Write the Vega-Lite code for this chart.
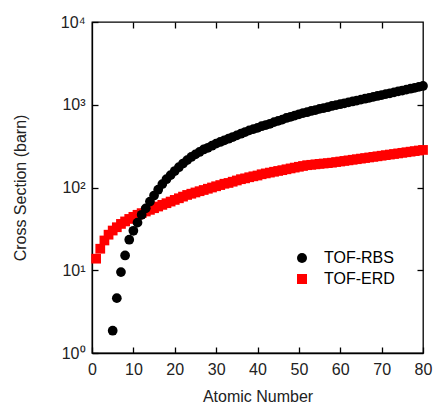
{
  "$schema": "https://vega.github.io/schema/vega-lite/v6.json",
  "width": 331,
  "height": 331,
  "autosize": {"type": "none"},
  "padding": {"left": 92, "top": 22, "right": 12, "bottom": 53},
  "background": "white",
  "config": {
    "view": {"stroke": "black", "strokeWidth": 1.3},
    "font": "Liberation Sans",
    "axis": {"labelFont": "Liberation Sans", "titleFont": "Liberation Sans", "labelFontSize": 16, "titleFontSize": 16, "titleFontWeight": "normal", "labelColor": "#222", "titleColor": "#222", "grid": false, "domainColor": "black", "tickColor": "black", "domainWidth": 1.3, "tickWidth": 1.3}
  },
  "datasets": {
    "erd": [
      {"Z":1,"cs":13.8},{"Z":2,"cs":18.2},{"Z":3,"cs":22.9},{"Z":4,"cs":26.9},{"Z":5,"cs":30.2},{"Z":6,"cs":33.1},{"Z":7,"cs":36.3},{"Z":8,"cs":38.9},{"Z":9,"cs":41.7},{"Z":10,"cs":44.2},
      {"Z":11,"cs":46.8},{"Z":12,"cs":49},{"Z":13,"cs":51.3},{"Z":14,"cs":53.7},{"Z":15,"cs":56.2},{"Z":16,"cs":58.9},{"Z":17,"cs":61.7},{"Z":18,"cs":64.6},{"Z":19,"cs":67.6},{"Z":20,"cs":70.8},
      {"Z":21,"cs":74.1},{"Z":22,"cs":77.6},{"Z":23,"cs":81.3},{"Z":24,"cs":84.1},{"Z":25,"cs":87.1},{"Z":26,"cs":90.2},{"Z":27,"cs":93.3},{"Z":28,"cs":96.6},{"Z":29,"cs":100},{"Z":30,"cs":103.5},
      {"Z":31,"cs":107},{"Z":32,"cs":111},{"Z":33,"cs":113.5},{"Z":34,"cs":117.5},{"Z":35,"cs":121.6},{"Z":36,"cs":126},{"Z":37,"cs":129},{"Z":38,"cs":133},{"Z":39,"cs":136.5},{"Z":40,"cs":139.6},
      {"Z":41,"cs":144.5},{"Z":42,"cs":148},{"Z":43,"cs":151.4},{"Z":44,"cs":155},{"Z":45,"cs":158.5},{"Z":46,"cs":162},{"Z":47,"cs":166},{"Z":48,"cs":170},{"Z":49,"cs":174},{"Z":50,"cs":178},
      {"Z":51,"cs":182},{"Z":52,"cs":186},{"Z":53,"cs":188},{"Z":54,"cs":190.5},{"Z":55,"cs":193},{"Z":56,"cs":195},{"Z":57,"cs":197},{"Z":58,"cs":199.5},{"Z":59,"cs":203},{"Z":60,"cs":206},
      {"Z":61,"cs":209.4},{"Z":62,"cs":212.8},{"Z":63,"cs":216.3},{"Z":64,"cs":219.8},{"Z":65,"cs":223.4},{"Z":66,"cs":227},{"Z":67,"cs":230.7},{"Z":68,"cs":234.4},{"Z":69,"cs":238.2},{"Z":70,"cs":242.1},
      {"Z":71,"cs":246},{"Z":72,"cs":250},{"Z":73,"cs":254},{"Z":74,"cs":258.2},{"Z":75,"cs":262.4},{"Z":76,"cs":266.7},{"Z":77,"cs":271},{"Z":78,"cs":275.4},{"Z":79,"cs":279.9},{"Z":80,"cs":284.4}
    ],
    "rbs": [
      {"Z":5,"cs":1.86},{"Z":6,"cs":4.6},{"Z":7,"cs":9.5},{"Z":8,"cs":15.1},{"Z":9,"cs":23.4},{"Z":10,"cs":30},
      {"Z":11,"cs":37.6},{"Z":12,"cs":46.8},{"Z":13,"cs":56},{"Z":14,"cs":67.6},{"Z":15,"cs":80},{"Z":16,"cs":94},{"Z":17,"cs":110},{"Z":18,"cs":126},{"Z":19,"cs":141},{"Z":20,"cs":158},
      {"Z":21,"cs":176},{"Z":22,"cs":195},{"Z":23,"cs":214},{"Z":24,"cs":234},{"Z":25,"cs":251},{"Z":26,"cs":269},{"Z":27,"cs":288},{"Z":28,"cs":302},{"Z":29,"cs":320},{"Z":30,"cs":339},
      {"Z":31,"cs":355},{"Z":32,"cs":372},{"Z":33,"cs":389},{"Z":34,"cs":407},{"Z":35,"cs":427},{"Z":36,"cs":447},{"Z":37,"cs":468},{"Z":38,"cs":490},{"Z":39,"cs":507},{"Z":40,"cs":525},
      {"Z":41,"cs":550},{"Z":42,"cs":569},{"Z":43,"cs":589},{"Z":44,"cs":617},{"Z":45,"cs":638},{"Z":46,"cs":661},{"Z":47,"cs":692},{"Z":48,"cs":716},{"Z":49,"cs":741},{"Z":50,"cs":767},
      {"Z":51,"cs":794},{"Z":52,"cs":813},{"Z":53,"cs":841},{"Z":54,"cs":861},{"Z":55,"cs":891},{"Z":56,"cs":912},{"Z":57,"cs":933},{"Z":58,"cs":966},{"Z":59,"cs":991},{"Z":60,"cs":1016},
      {"Z":61,"cs":1042},{"Z":62,"cs":1069},{"Z":63,"cs":1096},{"Z":64,"cs":1125},{"Z":65,"cs":1153},{"Z":66,"cs":1183},{"Z":67,"cs":1213},{"Z":68,"cs":1245},{"Z":69,"cs":1276},{"Z":70,"cs":1309},
      {"Z":71,"cs":1343},{"Z":72,"cs":1377},{"Z":73,"cs":1413},{"Z":74,"cs":1449},{"Z":75,"cs":1486},{"Z":76,"cs":1524},{"Z":77,"cs":1563},{"Z":78,"cs":1603},{"Z":79,"cs":1644},{"Z":80,"cs":1687}
    ]
  },
  "layer": [
    {
      "data": {"name": "erd"},
      "transform": [{"calculate": "'TOF-ERD'", "as": "series"}],
      "mark": {"type": "point", "filled": true, "opacity": 1, "size": 95},
      "encoding": {
        "x": {"field": "Z", "type": "quantitative", "scale": {"domain": [0, 80], "nice": false, "zero": false},
          "axis": {"orient": "bottom", "values": [0,10,20,30,40,50,60,70,80], "tickSize": -6, "labelPadding": 14, "title": "Atomic Number", "titleY": 35, "titleBaseline": "top", "labelFlush": false}},
        "y": {"field": "cs", "type": "quantitative", "scale": {"type": "log", "domain": [1, 10000], "nice": false},
          "axis": {"orient": "left", "values": [1,10,100,1000,10000], "tickSize": -6, "labelPadding": 13, "labelFlush": false,
            "labelExpr": "datum.value == 1 ? '10⁰' : datum.value == 10 ? '10¹' : datum.value == 100 ? '10²' : datum.value == 1000 ? '10³' : '10⁴'",
            "title": "Cross Section (barn)", "titleX": -72, "titleY": 165.5, "titleAngle": -90, "titleBaseline": "middle", "titleAlign": "center"}},
        "color": {"field": "series", "type": "nominal", "scale": {"domain": ["TOF-RBS", "TOF-ERD"], "range": ["black", "#ff0000"]},
          "legend": {"orient": "none", "legendX": 202, "legendY": 228, "title": null, "padding": 0, "symbolSize": 100, "labelFontSize": 16, "labelFont": "Liberation Sans", "labelOffset": 14, "rowPadding": 5, "symbolStrokeWidth": 0,
            "encode": {"labels": {"update": {"fill": [{"test": "datum.label === 'TOF-ERD'", "value": "#ff0000"}, {"value": "#111"}]}}}}},
        "shape": {"field": "series", "type": "nominal", "scale": {"domain": ["TOF-RBS", "TOF-ERD"], "range": ["circle", "square"]}}
      }
    },
    {
      "data": {"name": "rbs"},
      "transform": [{"calculate": "'TOF-RBS'", "as": "series"}],
      "mark": {"type": "point", "filled": true, "opacity": 1, "size": 95},
      "encoding": {
        "x": {"field": "Z", "type": "quantitative", "axis": null},
        "y": {"field": "cs", "type": "quantitative", "axis": null},
        "color": {"field": "series", "type": "nominal"},
        "shape": {"field": "series", "type": "nominal"}
      }
    },
    {
      "data": {"name": "rbs"},
      "mark": {"type": "point", "opacity": 0},
      "encoding": {
        "x": {"field": "Z", "type": "quantitative", "axis": {"orient": "top", "values": [10,20,30,40,50,60,70], "tickSize": -6, "labels": false, "domain": false, "title": null}},
        "y": {"field": "cs", "type": "quantitative", "axis": {"orient": "right", "values": [10,100,1000], "tickSize": -6, "labels": false, "domain": false, "title": null}}
      }
    }
  ],
  "resolve": {"axis": {"x": "independent", "y": "independent"}}
}
